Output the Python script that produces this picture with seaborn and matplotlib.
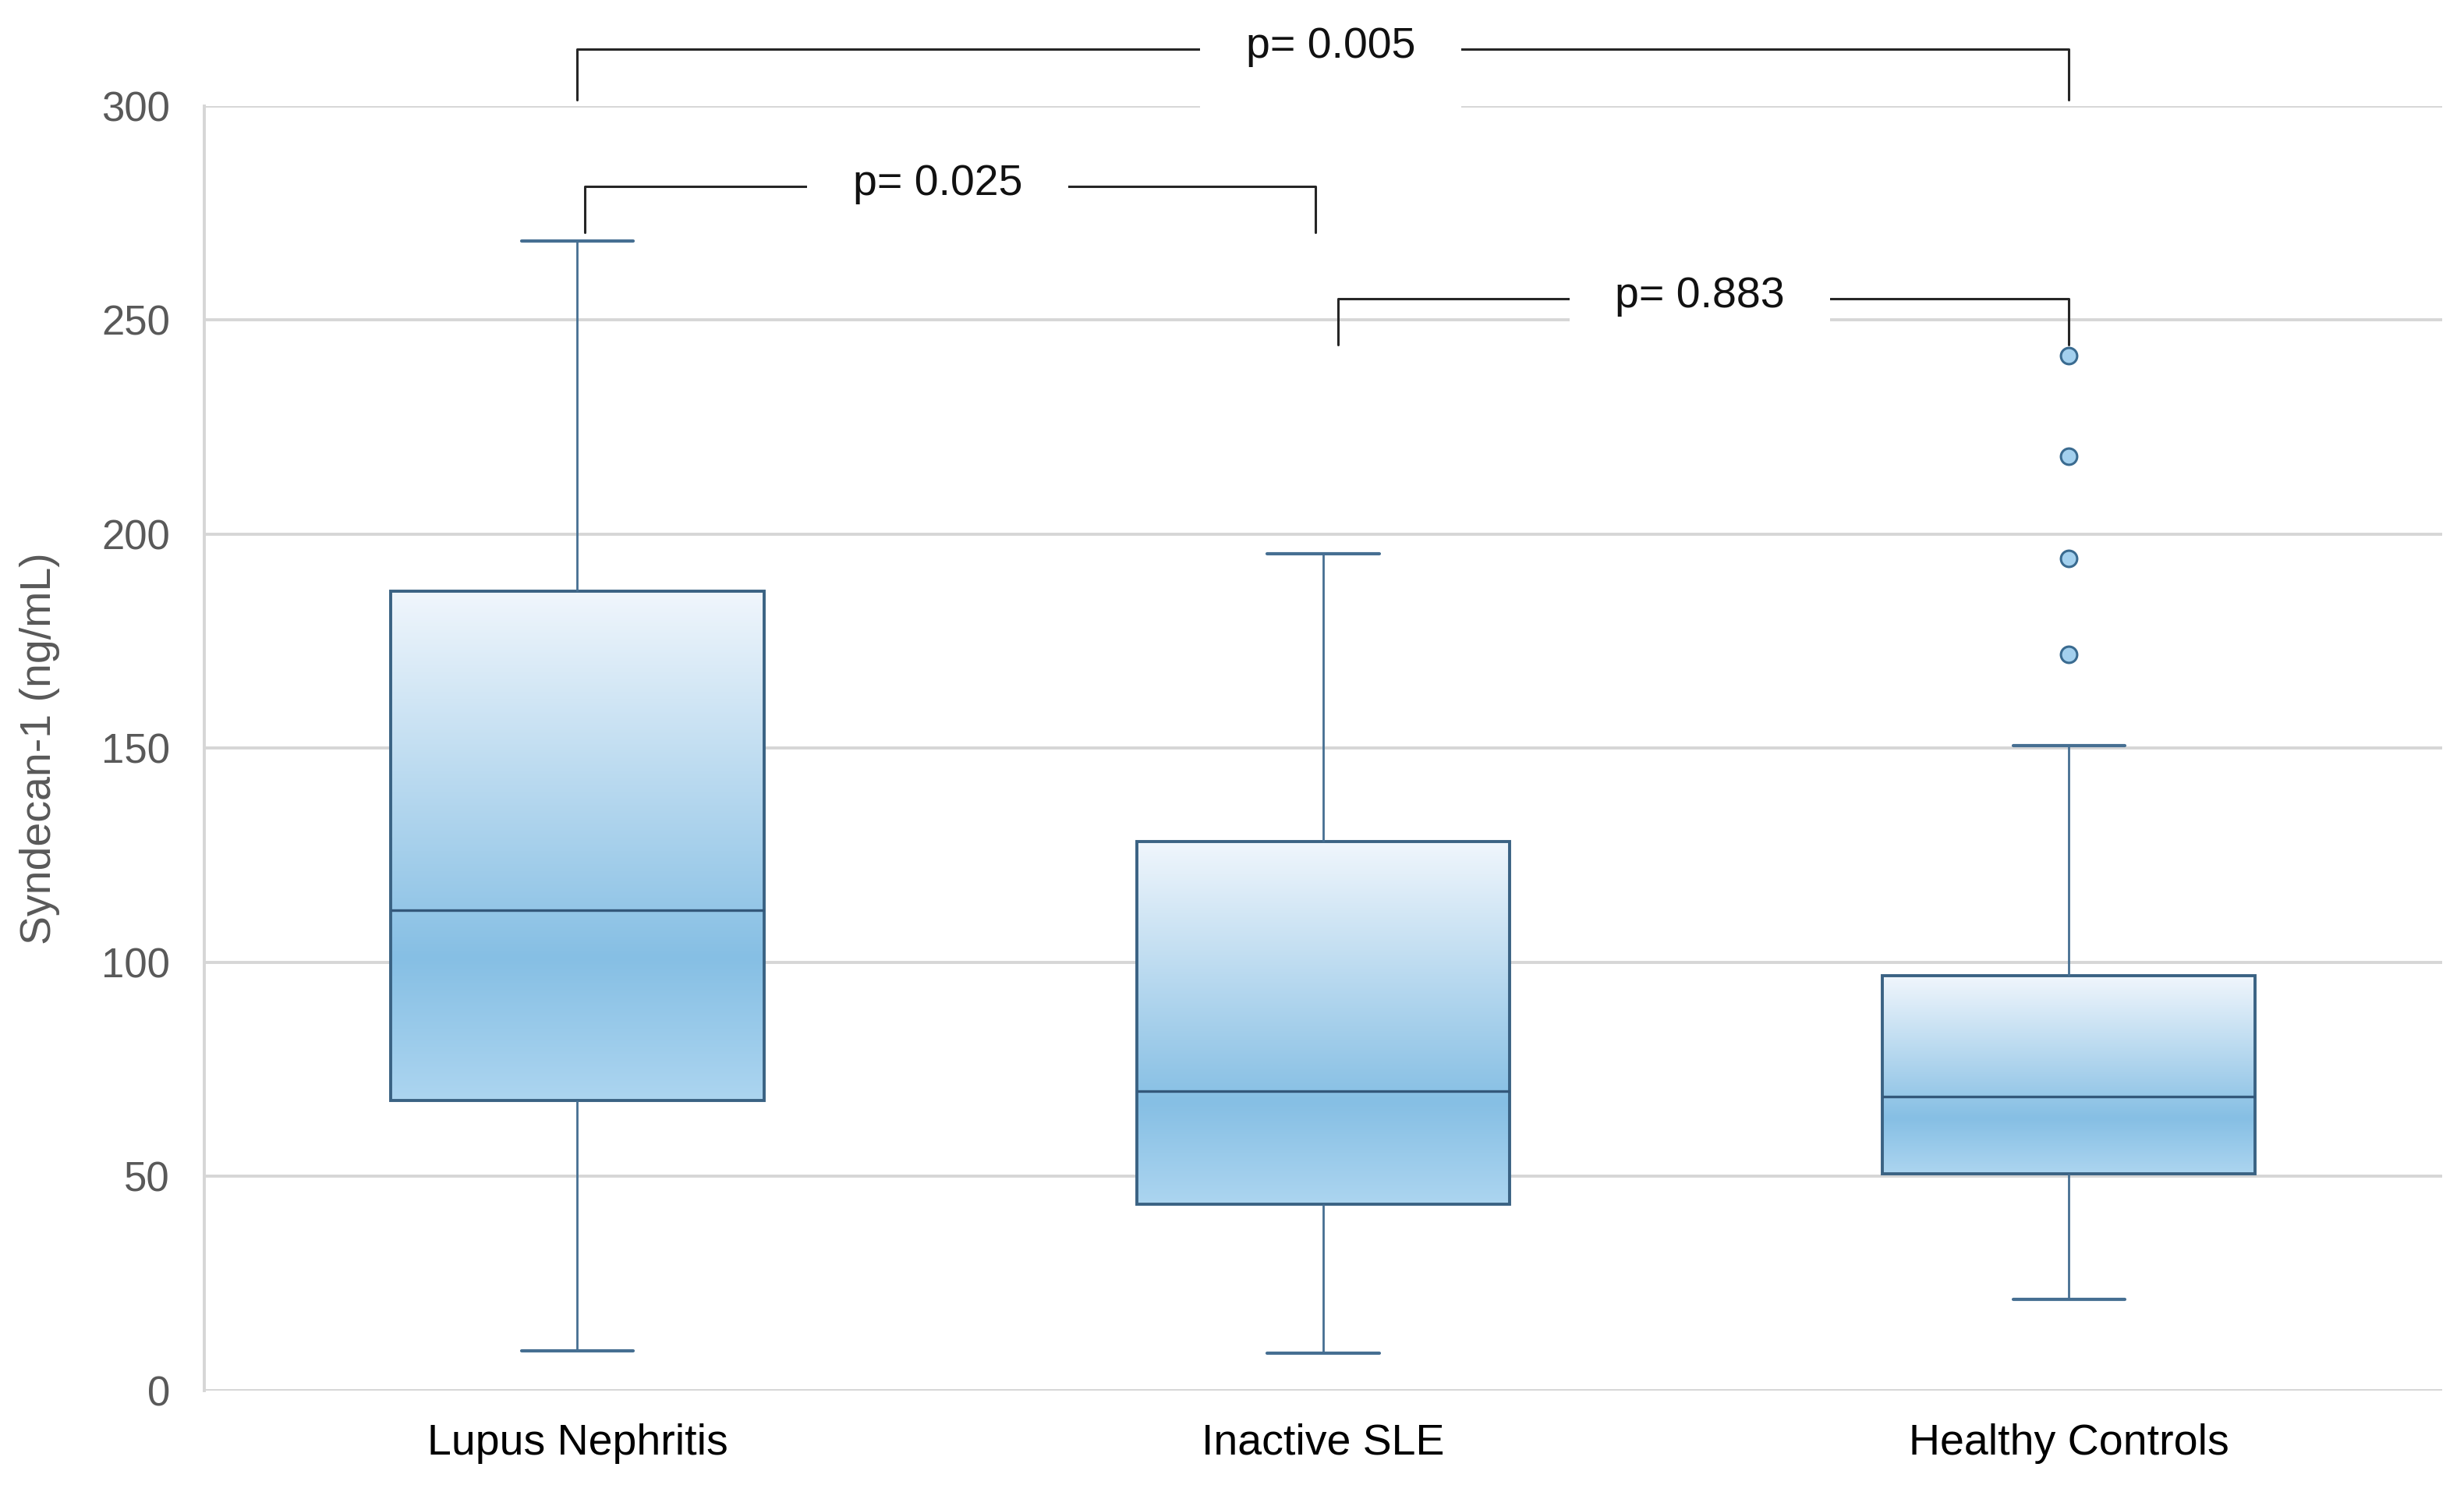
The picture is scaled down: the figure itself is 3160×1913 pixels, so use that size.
import numpy as np
import pandas as pd
import seaborn as sns
import matplotlib
matplotlib.use("Agg")
import matplotlib.pyplot as plt
from matplotlib.colors import LinearSegmentedColormap

# Box-and-whisker summary
groups = ["Lupus Nephritis", "Inactive SLE", "Healthy Controls"]
whisker_low = [9.2, 8.8, 21.3]
q1 = [67.8, 43.6, 50.6]
median = [112.2, 70.0, 68.6]
q3 = [186.7, 128.3, 96.8]
whisker_high = [268.4, 195.5, 150.7]
outliers = [[], [], [172.0, 194.4, 218.2, 241.7]]

# significance brackets
bracket_pairs = [(0.0, 2.0), (0.01, 0.99), (1.02, 2.0)]
bracket_tops = [313.2, 281.2, 254.9]
bracket_legs = [301.5, 270.5, 244.3]
p_labels = ["p= 0.005", "p= 0.025", "p= 0.883"]
p_label_x = [1.01, 0.483, 1.505]

# build a long table whose quartiles/whiskers reproduce the summary above
rows = []
for g, lo, a, m, b, hi, out in zip(groups, whisker_low, q1, median, q3, whisker_high, outliers):
    k = len(out) + 1
    vals = [lo] + [a] * k + [m] * k + [b] * k + [hi] + list(out)
    rows += [(g, v) for v in vals]
df = pd.DataFrame(rows, columns=["group", "value"])

sns.set_theme(style="whitegrid")
plt.rcParams["font.family"] = ["Liberation Sans", "DejaVu Sans"]

fig, ax = plt.subplots(figsize=(15.8, 9.565), dpi=200)
fig.subplots_adjust(left=0.083, right=0.991, top=0.929, bottom=0.068)

edge = "#3a6283"
sns.boxplot(
    data=df, x="group", y="value", order=groups, ax=ax,
    width=0.5, color="#86bfe4", linecolor=edge, linewidth=1.0,
    fliersize=7.5, capwidths=0.15,
    boxprops=dict(linewidth=1.4),
    whiskerprops=dict(linewidth=1.0, color="#466f92"),
    capprops=dict(linewidth=1.5, color="#466f92"),
    medianprops=dict(linewidth=1.2, color="#34587a"),
    flierprops=dict(marker="o", markerfacecolor="#a3d0ee",
                    markeredgecolor="#3a6b90", markeredgewidth=1.1),
)

# vertical gradient fill inside each box
grad_cmap = LinearSegmentedColormap.from_list(
    "boxgrad", [(0, "#f0f6fc"), (0.72, "#86bfe4"), (1, "#acd5f0")])
gradient = np.linspace(0, 1, 256).reshape(-1, 1)
for patch in list(ax.patches):
    verts = patch.get_path().vertices
    x0, x1 = verts[:, 0].min(), verts[:, 0].max()
    y0, y1 = verts[:, 1].min(), verts[:, 1].max()
    ax.imshow(gradient, cmap=grad_cmap, extent=[x0, x1, y0, y1], origin="upper",
              aspect="auto", interpolation="bicubic", zorder=patch.get_zorder() - 0.05)
    patch.set_facecolor("none")

ax.set_xlim(-0.5, 2.5)
ax.set_ylim(0, 300)
ax.set_yticks(range(0, 301, 50))
ax.grid(axis="y", color="#d6d6d6", linewidth=1.4)
ax.grid(axis="x", visible=False)
ax.set_axisbelow(True)
for s in ["top", "right", "bottom"]:
    ax.spines[s].set_visible(False)
ax.spines["left"].set_color("#d6d6d6")
ax.spines["left"].set_linewidth(1.4)

ax.tick_params(axis="y", length=0, pad=16, labelsize=19, labelcolor="#595959")
ax.tick_params(axis="x", length=0, pad=15, labelsize=20, labelcolor="black")
ax.set_xlabel("")
ax.set_ylabel("Syndecan-1 (ng/mL)", fontsize=20, color="#595959")
ax.yaxis.set_label_coords(-0.0644, 0.5)

# brackets with p-values
for (xa, xb), top, leg, lab, tx in zip(bracket_pairs, bracket_tops, bracket_legs, p_labels, p_label_x):
    ax.plot([xa, xa, xb, xb], [leg, top, top, leg], color="#262626", linewidth=1.1,
            clip_on=False, zorder=5, solid_joinstyle="round")
    ax.text(tx, top - 2.0, lab, ha="center", va="baseline", fontsize=20, color="#111111",
            zorder=6, clip_on=False,
            bbox=dict(boxstyle="square,pad=1.05", facecolor="white", edgecolor="none"))

fig.savefig("out.png", dpi=200)
